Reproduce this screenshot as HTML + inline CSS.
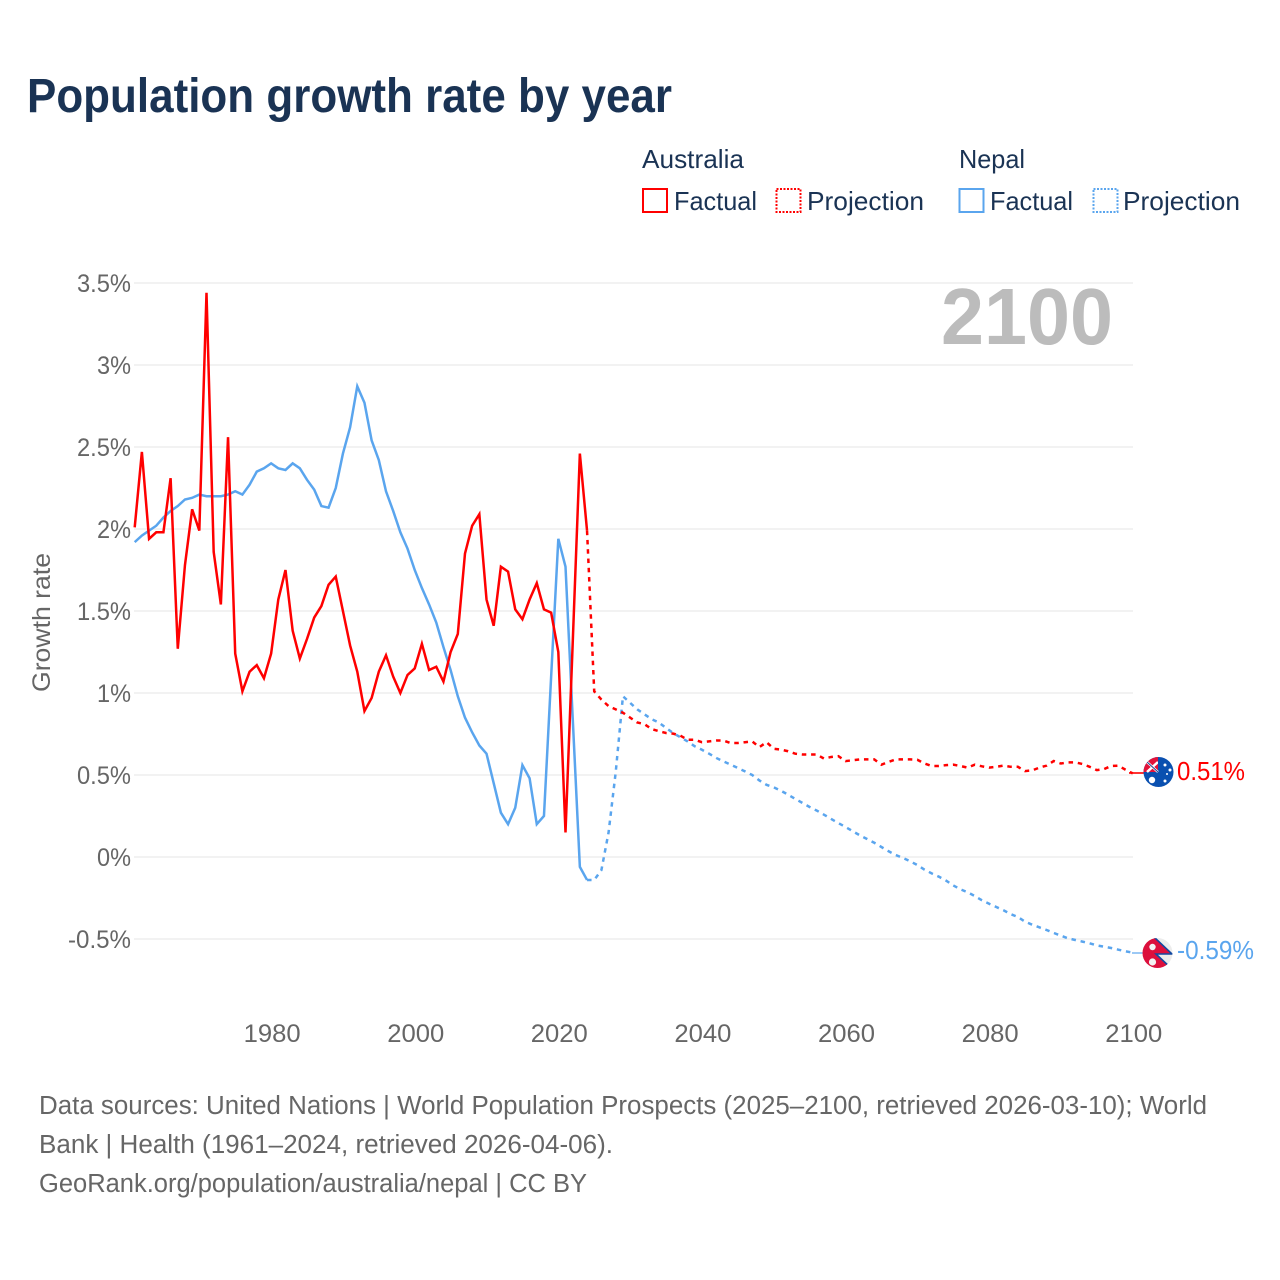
<!DOCTYPE html>
<html lang="en">
<head>
<meta charset="utf-8">
<title>Population growth rate by year</title>
<style>
html,body{margin:0;padding:0;background:#fff;}
svg{display:block;font-family:"Liberation Sans",sans-serif;}
</style>
</head>
<body>
<svg id="chart" xmlns="http://www.w3.org/2000/svg" width="1280" height="1280" viewBox="0 0 1280 1280">
  <defs>
    <clipPath id="au-clip"><circle cx="1158.5" cy="772" r="15"/></clipPath>
    <clipPath id="np-clip"><circle cx="1157.5" cy="953" r="15"/></clipPath>
  </defs>
  <rect width="1280" height="1280" fill="#fff"/>
  <text x="27" y="112" font-size="48" font-weight="700" fill="#1a3354" textLength="645" lengthAdjust="spacingAndGlyphs">Population growth rate by year</text>

  <g font-size="26" fill="#1a3354">
    <text x="642" y="168" textLength="102" lengthAdjust="spacingAndGlyphs">Australia</text>
    <text x="959" y="168" textLength="66" lengthAdjust="spacingAndGlyphs">Nepal</text>
    <g>
      <rect x="643" y="189" width="24" height="23" fill="none" stroke="#ff0000" stroke-width="2"/>
      <text x="674" y="210" textLength="83" lengthAdjust="spacingAndGlyphs">Factual</text>
    </g>
    <g>
      <rect x="776.5" y="189" width="24" height="23" fill="none" stroke="#ff0000" stroke-width="2" stroke-dasharray="2 1.5"/>
      <text x="807" y="210" textLength="117" lengthAdjust="spacingAndGlyphs">Projection</text>
    </g>
    <g>
      <rect x="959.5" y="189" width="24" height="23" fill="none" stroke="#5aa5ee" stroke-width="2"/>
      <text x="990" y="210" textLength="83" lengthAdjust="spacingAndGlyphs">Factual</text>
    </g>
    <g>
      <rect x="1093.5" y="189" width="24" height="23" fill="none" stroke="#5aa5ee" stroke-width="2" stroke-dasharray="2 1.5"/>
      <text x="1123" y="210" textLength="117" lengthAdjust="spacingAndGlyphs">Projection</text>
    </g>
  </g>

  <g id="grid"></g>
  <g id="yticks" font-size="25" fill="#666"></g>
  <g id="xticks" font-size="25" fill="#666"></g>
  <text transform="translate(50,692) rotate(-90)" font-size="25" fill="#666" textLength="139" lengthAdjust="spacingAndGlyphs">Growth rate</text>
  <text x="1113" y="344" text-anchor="end" font-size="80" font-weight="700" fill="#bcbcbc" textLength="172" lengthAdjust="spacingAndGlyphs">2100</text>

  <g id="series"></g>

  <line x1="1129" y1="773" x2="1144" y2="773" stroke="#ff0000" stroke-width="1.6"/>
  <line x1="1132" y1="953" x2="1144" y2="953" stroke="#5aa5ee" stroke-width="1.2"/>

  <g clip-path="url(#au-clip)">
    <rect x="1143" y="756" width="31" height="32" fill="#0a50b0"/>
    <path d="M1143 756h15v16h-15z" fill="#e2123a"/>
    <path d="M1147 762l11 10M1158 762l-11 10" stroke="#fff" stroke-width="2.5"/>
    <path d="M1147 762l11 10" stroke="#1d3f8f" stroke-width="1"/>
    <path d="M1158 756l2 5 3-4v7h-5z" fill="#0a50b0"/>
    <circle cx="1152" cy="780" r="3.2" fill="#fff"/>
    <circle cx="1165" cy="765" r="1.5" fill="#fff"/>
    <circle cx="1170" cy="770" r="1.5" fill="#fff"/>
    <circle cx="1165" cy="781" r="1.5" fill="#fff"/>
    <circle cx="1167" cy="774" r="1" fill="#fff"/>
  </g>
  <g clip-path="url(#np-clip)">
    <rect x="1142" y="937" width="31" height="32" fill="#ececec"/>
    <path d="M1140 935L1154 937L1172 954L1156 954L1172 969L1140 972Z" fill="#dc0f3c" stroke="#1248a0" stroke-width="1.6"/>
    <path d="M1140 935V972H1172" fill="none" stroke="#dc0f3c" stroke-width="3"/>
    <circle cx="1152.5" cy="947" r="3.2" fill="#f3f3f3"/>
    <circle cx="1152.5" cy="962" r="3.6" fill="#f3f3f3"/>
  </g>

  <text x="1177" y="780" font-size="25.5" fill="#ff0000" textLength="68" lengthAdjust="spacingAndGlyphs">0.51%</text>
  <text x="1177" y="959" font-size="25.5" fill="#5aa5ee" textLength="77" lengthAdjust="spacingAndGlyphs">-0.59%</text>

  <g font-size="25.5" fill="#666">
    <text x="39" y="1114" textLength="1168" lengthAdjust="spacingAndGlyphs">Data sources: United Nations | World Population Prospects (2025–2100, retrieved 2026-03-10); World</text>
    <text x="39" y="1153" textLength="574" lengthAdjust="spacingAndGlyphs">Bank | Health (1961–2024, retrieved 2026-04-06).</text>
    <text x="39" y="1192" textLength="548" lengthAdjust="spacingAndGlyphs">GeoRank.org/population/australia/nepal | CC BY</text>
  </g>
</svg>
<script>
const yTickValues = [3.5, 3, 2.5, 2, 1.5, 1, 0.5, 0, -0.5];
const yTickLabels = ["3.5%", "3%", "2.5%", "2%", "1.5%", "1%", "0.5%", "0%", "-0.5%"];
const xTickYears = [1980, 2000, 2020, 2040, 2060, 2080, 2100];
const xTickLabels = ["1980", "2000", "2020", "2040", "2060", "2080", "2100"];

const factualStartYear = 1961;
const projectionStartYear = 2024;

const australiaFactual = [
  2.01, 2.47, 1.94, 1.98, 1.98, 2.31, 1.27, 1.78, 2.12, 1.99,
  3.44, 1.86, 1.54, 2.56, 1.24, 1.01, 1.13, 1.17, 1.09, 1.24,
  1.57, 1.75, 1.38, 1.21, 1.33, 1.46, 1.53, 1.66, 1.71, 1.50,
  1.29, 1.13, 0.89, 0.97, 1.13, 1.23, 1.10, 1.00, 1.11, 1.15,
  1.30, 1.14, 1.16, 1.07, 1.25, 1.36, 1.85, 2.02, 2.09, 1.57,
  1.41, 1.77, 1.74, 1.51, 1.45, 1.57, 1.67, 1.51, 1.49, 1.25,
  0.15, 1.30, 2.46, 1.99
];
const nepalFactual = [
  1.92, 1.96, 1.99, 2.02, 2.07, 2.11, 2.14, 2.18, 2.19, 2.21,
  2.20, 2.20, 2.20, 2.21, 2.23, 2.21, 2.27, 2.35, 2.37, 2.40,
  2.37, 2.36, 2.40, 2.37, 2.30, 2.24, 2.14, 2.13, 2.25, 2.46,
  2.62, 2.87, 2.77, 2.54, 2.42, 2.23, 2.11, 1.98, 1.88, 1.75,
  1.64, 1.54, 1.43, 1.28, 1.14, 0.98, 0.85, 0.76, 0.68, 0.63,
  0.45, 0.27, 0.20, 0.30, 0.56, 0.48, 0.20, 0.25, 1.10, 1.94,
  1.77, 0.85, -0.06, -0.14
];
const australiaProjection = [
  1.99, 1.01, 0.96, 0.92, 0.90, 0.88, 0.85, 0.82, 0.81, 0.78,
  0.767, 0.756, 0.752, 0.74, 0.715, 0.715, 0.70, 0.705, 0.71, 0.71,
  0.695, 0.695, 0.70, 0.705, 0.67, 0.70, 0.66, 0.655, 0.645, 0.63,
  0.625, 0.625, 0.625, 0.60, 0.61, 0.615, 0.585, 0.59, 0.595, 0.595,
  0.595, 0.563, 0.58, 0.595, 0.595, 0.595, 0.593, 0.57, 0.555, 0.555,
  0.56, 0.563, 0.555, 0.545, 0.563, 0.553, 0.545, 0.55, 0.557, 0.55,
  0.55, 0.524, 0.528, 0.545, 0.557, 0.585, 0.57, 0.577, 0.577, 0.567,
  0.55, 0.53, 0.536, 0.555, 0.557, 0.532, 0.51
];
const nepalProjection = [
  -0.14, -0.14, -0.08, 0.15, 0.52, 0.98, 0.94, 0.90, 0.87, 0.84,
  0.82, 0.787, 0.756, 0.73, 0.705, 0.675, 0.654, 0.63, 0.604, 0.583,
  0.563, 0.543, 0.522, 0.50, 0.467, 0.44, 0.425, 0.404, 0.38, 0.354,
  0.33, 0.305, 0.283, 0.258, 0.232, 0.207, 0.183, 0.157, 0.132, 0.11,
  0.087, 0.061, 0.035, 0.012, -0.006, -0.026, -0.049, -0.077, -0.10, -0.12,
  -0.144, -0.173, -0.197, -0.215, -0.238, -0.264, -0.285, -0.305, -0.325, -0.348,
  -0.366, -0.394, -0.413, -0.429, -0.445, -0.463, -0.48, -0.496, -0.506, -0.516,
  -0.526, -0.539, -0.547, -0.555, -0.565, -0.575, -0.583
];

const SVG_NS = "http://www.w3.org/2000/svg";
const RED = "#ff0000";
const BLUE = "#5aa5ee";

function xScale(year) {
  return 134.7 + (year - 1961) * 7.18;
}
function yScale(value) {
  return 857 - value * 164;
}
function linePath(values, startYear) {
  return values.map(function (v, i) {
    return (i === 0 ? "M" : "L") + xScale(startYear + i).toFixed(2) + " " + yScale(v).toFixed(2);
  }).join("");
}

const gridGroup = document.getElementById("grid");
const yGroup = document.getElementById("yticks");
yTickValues.forEach(function (v, i) {
  const line = document.createElementNS(SVG_NS, "line");
  
  
  line.setAttribute("x1", 134);
  line.setAttribute("x2", 1133);
  line.setAttribute("y1", yScale(v));
  line.setAttribute("y2", yScale(v));
  line.setAttribute("stroke", "#ededed");
  line.setAttribute("stroke-width", 1.6);
  gridGroup.appendChild(line);

  const label = yTickLabels[i];
  const t = document.createElementNS(SVG_NS, "text");
  
  
  t.setAttribute("x", 131);
  t.setAttribute("y", yScale(v) + 9);
  t.setAttribute("text-anchor", "end");
  t.setAttribute("textLength", label.charAt(0) === "-" ? 63 : (label.indexOf(".") >= 0 ? 54 : 34));
  t.setAttribute("lengthAdjust", "spacingAndGlyphs");
  t.textContent = label;
  yGroup.appendChild(t);
});

const xGroup = document.getElementById("xticks");
xTickYears.forEach(function (yr, i) {
  const t = document.createElementNS(SVG_NS, "text");
  
  
  t.setAttribute("x", xScale(yr) + 1);
  t.setAttribute("y", 1042);
  t.setAttribute("text-anchor", "middle");
  t.setAttribute("textLength", 57);
  t.setAttribute("lengthAdjust", "spacingAndGlyphs");
  t.textContent = xTickLabels[i];
  xGroup.appendChild(t);
});

const seriesGroup = document.getElementById("series");

const nepalFactualLine = document.createElementNS(SVG_NS, "path");


nepalFactualLine.setAttribute("d", linePath(nepalFactual, factualStartYear));
nepalFactualLine.setAttribute("fill", "none");
nepalFactualLine.setAttribute("stroke", BLUE);
nepalFactualLine.setAttribute("stroke-width", 2.5);
seriesGroup.appendChild(nepalFactualLine);

const nepalProjectionLine = document.createElementNS(SVG_NS, "path");


nepalProjectionLine.setAttribute("d", linePath(nepalProjection, projectionStartYear));
nepalProjectionLine.setAttribute("fill", "none");
nepalProjectionLine.setAttribute("stroke", BLUE);
nepalProjectionLine.setAttribute("stroke-width", 2.5);
nepalProjectionLine.setAttribute("stroke-dasharray", "4.5 4.8");
seriesGroup.appendChild(nepalProjectionLine);

const australiaFactualLine = document.createElementNS(SVG_NS, "path");


australiaFactualLine.setAttribute("d", linePath(australiaFactual, factualStartYear));
australiaFactualLine.setAttribute("fill", "none");
australiaFactualLine.setAttribute("stroke", RED);
australiaFactualLine.setAttribute("stroke-width", 2.5);
seriesGroup.appendChild(australiaFactualLine);

const australiaProjectionLine = document.createElementNS(SVG_NS, "path");


australiaProjectionLine.setAttribute("d", linePath(australiaProjection, projectionStartYear));
australiaProjectionLine.setAttribute("fill", "none");
australiaProjectionLine.setAttribute("stroke", RED);
australiaProjectionLine.setAttribute("stroke-width", 2.5);
australiaProjectionLine.setAttribute("stroke-dasharray", "4.5 4.8");
seriesGroup.appendChild(australiaProjectionLine);
</script>
</body>
</html>
